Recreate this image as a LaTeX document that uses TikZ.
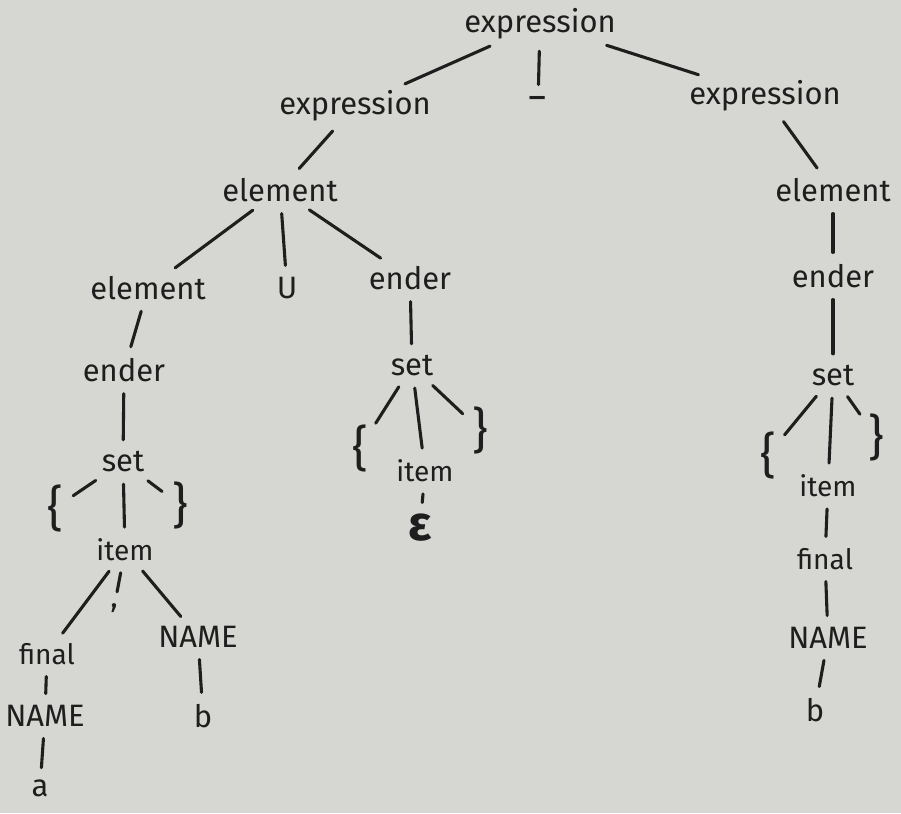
\documentclass[tikz,border=0pt]{standalone}
\usepackage{fontspec}
\setmainfont{Fira Sans}
\usetikzlibrary{positioning}
\definecolor{paper}{RGB}{214,214,210}
\definecolor{ink}{RGB}{30,30,30}
\tikzstyle{word}=[inner sep=1pt, text=ink, font=\fontsize{11}{13}\selectfont]
\tikzstyle{small word}=[word, font=\normalsize]
\tikzstyle{brace word}=[word, font=\LARGE]
\tikzstyle{treeedge}=[draw=ink, line width=1.1pt, line cap=round, shorten >=3pt, shorten <=3pt]

\begin{document}
\begin{tikzpicture}[x=0.0125cm, y=-0.0125cm]
\fill[paper] (0,0) rectangle (901,813);
\useasboundingbox (0,0) rectangle (901,813);

	% top level
    \node[word] (E0) at (540,24) {expression};
    \node[word] (E1) at (355,106) {expression};
    \node[word, font=\Large] (Min) at (538,104) {−};
    \node[word] (E2) at (765,96) {expression};

	% left branch
    \node[word] (L1) at (280,190) {element};
    \node[word] (L2) at (148,288) {element};
    \node[word] (U) at (287,288) {U};
    \node[word] (C1) at (410,278) {ender};
    \node[word] (L3) at (124,370) {ender};
    \node[word] (L4) at (123,462) {set};
    \node[brace word] (L5) at (55,508) {\{};
    \node[small word] (L6) at (125,550) {item};
    \node[brace word] (L7) at (180,505) {\}};
    \node[small word] (L8) at (47,654) {final};
    \node[word] (L9) at (114,608) {,};
    \node[word] (L10) at (198,637) {NAME};
    \node[word] (L11) at (45,716) {NAME};
    \node[word] (L12) at (203,716) {b};
    \node[word] (L13) at (40,788) {a};

	% middle set
    \node[word] (C2) at (412,366) {set};
    \node[brace word] (C3) at (360,448) {\{};
    \node[small word] (C4) at (425,471) {item};
    \node[brace word] (C5) at (480,430) {\}};
    \node[word, font=\LARGE\bfseries] (C6) at (420,528) {ε};

	% right branch
    \node[word] (R1) at (833,190) {element};
    \node[word] (R2) at (833,276) {ender};
    \node[word] (R3) at (833,376) {set};
    \node[brace word] (R4) at (768,455) {\{};
    \node[small word] (R5) at (828,486) {item};
    \node[brace word] (R6) at (876,437) {\}};
    \node[small word] (R7) at (825,559) {final};
    \node[word] (R8) at (828,638) {NAME};
    \node[word] (R9) at (815,710) {b};

	% edges
    \foreach \source / \dest in {E0/E1, E0/Min, E0/E2, E1/L1, L1/L2, L1/U, L1/C1,
                                 L2/L3, L3/L4, L4/L5, L4/L6, L4/L7, L6/L8, L6/L9, L6/L10,
                                 L8/L11, L10/L12, L11/L13,
                                 C1/C2, C2/C3, C2/C4, C2/C5, C4/C6,
                                 E2/R1, R1/R2, R2/R3, R3/R4, R3/R5, R3/R6, R5/R7, R7/R8, R8/R9}
        \draw[treeedge] (\source) -- (\dest);

\end{tikzpicture}
\end{document}
